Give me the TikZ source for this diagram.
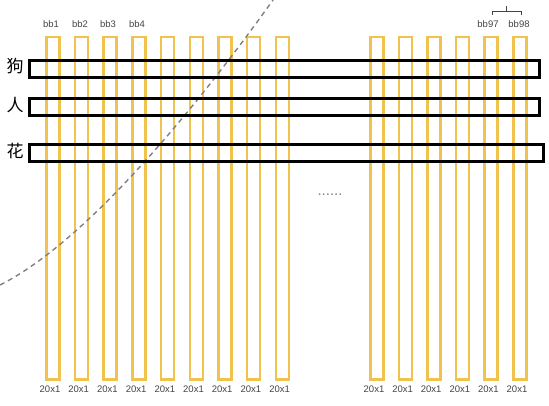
\documentclass[tikz,border=0pt]{standalone}
\usepackage{fontspec}
\setmainfont{Liberation Sans}
\newfontfamily\cjk{Noto Sans CJK SC}
\definecolor{gold}{HTML}{F0C24E}
\definecolor{txtgray}{HTML}{444444}
\definecolor{dashgray}{HTML}{808080}
\begin{document}
\begin{tikzpicture}[x=1pt,y=-1pt,
  col/.style={draw=gold,line width=2.5pt,minimum width=13pt,minimum height=342pt,inner sep=0pt,anchor=north west},
  row/.style={draw=black,line width=3.2pt,minimum height=17pt,inner sep=0pt,anchor=north west},
  bblab/.style={font=\fontsize{9.5}{10}\selectfont,text=txtgray,inner sep=0pt},
  dimlab/.style={font=\fontsize{9.5}{10}\selectfont,text=txtgray,inner sep=0pt},
  rowlab/.style={font=\cjk\fontsize{17}{18}\selectfont,inner sep=0pt}]
\useasboundingbox (0,0) rectangle (549,406);
% left group of columns
\foreach \i in {0,...,8}{
  \node[col] (L\i) at ({45+28.7*\i},36) {};
  \node[dimlab] (dl\i) at ({50+28.7*\i},389) {20x1};
}
% right group of columns
\foreach \i in {0,...,5}{
  \node[col] (R\i) at ({369+28.6*\i},36) {};
  \node[dimlab] (dr\i) at ({374+28.6*\i},389) {20x1};
}
% bb labels
\node[bblab] (bb1) at (51,24) {bb1};
\node[bblab] (bb2) at (80,24) {bb2};
\node[bblab] (bb3) at (108,24) {bb3};
\node[bblab] (bb4) at (137,24) {bb4};
\node[bblab] (bb97) at (488,24) {bb97};
\node[bblab] (bb98) at (519,24) {bb98};
% brace above bb97 / bb98
\draw[txtgray,line width=0.8pt] (492,15) -- (492,11) -- (521,11) -- (521,15);
\draw[txtgray,line width=0.8pt] (506,11) -- (506,6);
% dots
\node[font=\fontsize{15}{16}\selectfont,text=gray,inner sep=0pt,anchor=base] (dots) at (330,196) {......};
% dashed curve
\draw[dashgray,line width=1.4pt,dash pattern=on 5pt off 4pt] (0,285) .. controls (90,240) and (203,98) .. (273,0);
% black rows
\node[row,minimum width=510pt] (r1) at (28,59) {};
\node[row,minimum width=510pt] (r2) at (28,97) {};
\node[row,minimum width=514pt] (r3) at (28,143) {};
\node[rowlab] (t1) at (15,66) {狗};
\node[rowlab] (t2) at (15,105) {人};
\node[rowlab] (t3) at (15,151) {花};
\end{tikzpicture}
\end{document}
